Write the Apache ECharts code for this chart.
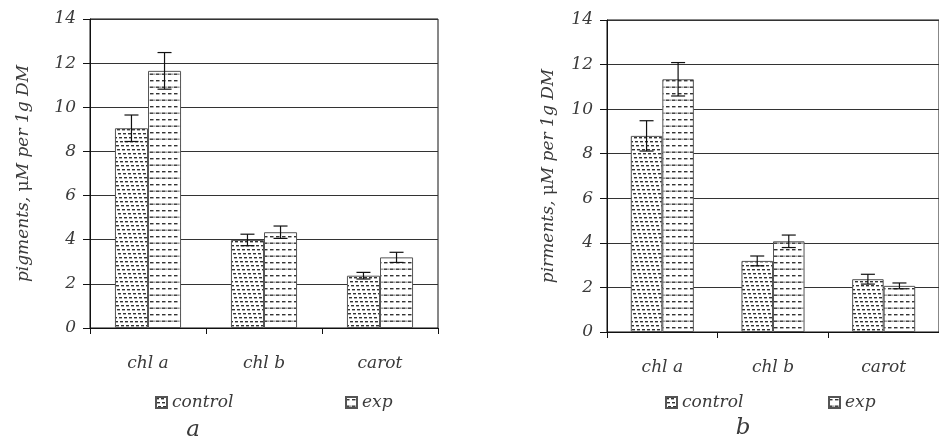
<!DOCTYPE html>
<html>
	<head>
		<meta charset="utf-8">
		<title>pigments</title>
		<script src="https://cdn.jsdelivr.net/npm/echarts@6/dist/echarts.min.js"></script>
		<style>
			html, body { margin: 0; padding: 0; background: #fff; }
		</style>
	</head>
	<body>
		<div id="pigChart" style="width:939px;height:439px;"></div>
		<script>
			// data
			var categories = ['chl a', 'chl b', 'carot'];
			var yTicks = [0, 2, 4, 6, 8, 10, 12, 14];
			// panel a
			var controlA = [9.05, 3.99, 2.37];
			var controlAErr = [0.6, 0.26, 0.15];
			var expA = [11.65, 4.34, 3.2];
			var expAErr = [0.83, 0.28, 0.23];
			// panel b
			var controlB = [8.8, 3.19, 2.37];
			var controlBErr = [0.68, 0.22, 0.22];
			var expB = [11.34, 4.07, 2.07];
			var expBErr = [0.75, 0.28, 0.13];

			var FONT = 'DejaVu Serif';
			var TXT = '#3a3a3a';

			// hatch patterns like the old excel fills
			function controlPattern() {
				var c = document.createElement('canvas');
				c.width = 5; c.height = 20;
				var ctx = c.getContext('2d');
				ctx.fillStyle = '#fff';
				ctx.fillRect(0, 0, 5, 20);
				ctx.fillStyle = '#333';
				for (var r = 0; r < 5; r++) {
					var y = r * 4 + 1;
					var x0 = r;
					for (var k = -1; k < 2; k++) {
						ctx.fillRect(x0 + k * 5, y, 3, 1.4);
					}
				}
				return c;
			}
			function expPattern() {
				var c = document.createElement('canvas');
				c.width = 6; c.height = 13;
				var ctx = c.getContext('2d');
				ctx.fillStyle = '#fff';
				ctx.fillRect(0, 0, 6, 13);
				ctx.fillStyle = '#333';
				ctx.fillRect(0, 2, 3.5, 1.4);
				ctx.fillRect(0, 8.5, 3.5, 1.4);
				ctx.fillRect(4.5, 8.5, 0.8, 1.4);
				return c;
			}
			var ctrlFill = { image: controlPattern(), repeat: 'repeat' };
			var expFill = { image: expPattern(), repeat: 'repeat' };

			function errData(vals, errs) {
				var out = [];
				for (var i = 0; i < vals.length; i++) {
					out.push([i, vals[i], errs[i]]);
				}
				return out;
			}

			function errRender(side) {
				return function(params, api) {
					var idx = api.value(0);
					var v = api.value(1);
					var e = api.value(2);
					var band = api.size([1, 0])[0];
					var off = side * band * 0.1425;
					var hi = api.coord([idx, v + e]);
					var lo = api.coord([idx, v - e]);
					var x = hi[0] + off;
					var cap = 7;
					var st = { stroke: '#111', lineWidth: 1.2 };
					return {
						type: 'group',
						children: [
							{ type: 'line', shape: { x1: x, y1: hi[1], x2: x, y2: lo[1] }, style: st },
							{ type: 'line', shape: { x1: x - cap, y1: hi[1], x2: x + cap, y2: hi[1] }, style: st },
							{ type: 'line', shape: { x1: x - cap, y1: lo[1], x2: x + cap, y2: lo[1] }, style: st }
						]
					};
				};
			}

			function xAx(gi) {
				return {
					type: 'category',
					gridIndex: gi,
					data: categories,
					axisLine: { lineStyle: { color: '#111', width: 1 } },
					axisTick: { show: true, length: 6, lineStyle: { color: '#111' } },
					axisLabel: { margin: 27, fontFamily: FONT, fontStyle: 'italic', fontSize: 17, color: TXT }
				};
			}
			function yAx(gi, name, gap) {
				return {
					type: 'value',
					gridIndex: gi,
					min: yTicks[0],
					max: yTicks[yTicks.length - 1],
					interval: 2,
					name: name,
					nameLocation: 'middle',
					nameRotate: 90,
					nameGap: gap,
					nameTextStyle: {
						fontFamily: FONT, fontStyle: 'italic', fontSize: 17, color: TXT,
						rich: { m: { fontFamily: FONT, fontStyle: 'normal', fontSize: 17, color: TXT } }
					},
					axisLine: { show: true, lineStyle: { color: '#111' } },
					axisTick: { show: true, length: 7, lineStyle: { color: '#111' } },
					axisLabel: { margin: 14, fontFamily: FONT, fontStyle: 'italic', fontSize: 17, color: TXT },
					splitLine: { show: true, lineStyle: { color: '#333', width: 1 } }
				};
			}
			function barS(name, gi, vals, fill) {
				return {
					name: name,
					type: 'bar',
					xAxisIndex: gi,
					yAxisIndex: gi,
					data: vals,
					barWidth: '28.5%',
					barGap: '0%',
					itemStyle: { color: fill, borderColor: '#555', borderWidth: 1 },
					emphasis: { disabled: true }
				};
			}
			function errS(gi, vals, errs, side) {
				return {
					type: 'custom',
					xAxisIndex: gi,
					yAxisIndex: gi,
					data: errData(vals, errs),
					renderItem: errRender(side),
					z: 5,
					silent: true
				};
			}
			function leg(name, left) {
				return {
					data: [name],
					left: left,
					top: 389,
					icon: 'rect',
					itemWidth: 11,
					itemHeight: 11,
					textStyle: { fontFamily: FONT, fontStyle: 'italic', fontSize: 17, color: TXT },
					selectedMode: false
				};
			}

			var chart = echarts.init(document.getElementById('pigChart'));
			var option = {
				animation: false,
				backgroundColor: '#fff',
				grid: [
					{ left: 90, top: 19, width: 348, height: 309, show: true, borderColor: '#111', borderWidth: 1 },
					{ left: 607, top: 20, width: 340, height: 312, show: true, borderColor: '#111', borderWidth: 1 }
				],
				xAxis: [xAx(0), xAx(1)],
				yAxis: [
					yAx(0, 'pigments, {m|\u03bc}M per 1g DM', 58),
					yAx(1, 'pirments, {m|\u03bc}M per 1g DM', 50)
				],
				legend: [leg('control', 150), leg('exp', 340), leg('control', 660), leg('exp', 823)],
				series: [
					barS('control', 0, controlA, ctrlFill),
					barS('exp', 0, expA, expFill),
					barS('control', 1, controlB, ctrlFill),
					barS('exp', 1, expB, expFill),
					errS(0, controlA, controlAErr, -1),
					errS(0, expA, expAErr, 1),
					errS(1, controlB, controlBErr, -1),
					errS(1, expB, expBErr, 1)
				],
				graphic: [
					{ type: 'text', x: 193, y: 430, style: { text: 'a', font: 'italic 23px "DejaVu Serif"', fill: TXT, align: 'center', verticalAlign: 'middle' } },
					{ type: 'text', x: 743, y: 428, style: { text: 'b', font: 'italic 23px "DejaVu Serif"', fill: TXT, align: 'center', verticalAlign: 'middle' } }
				]
			};
			chart.setOption(option);
			window.onresize = function() {
				chart.resize();
			};
		</script>
	</body>
</html>
